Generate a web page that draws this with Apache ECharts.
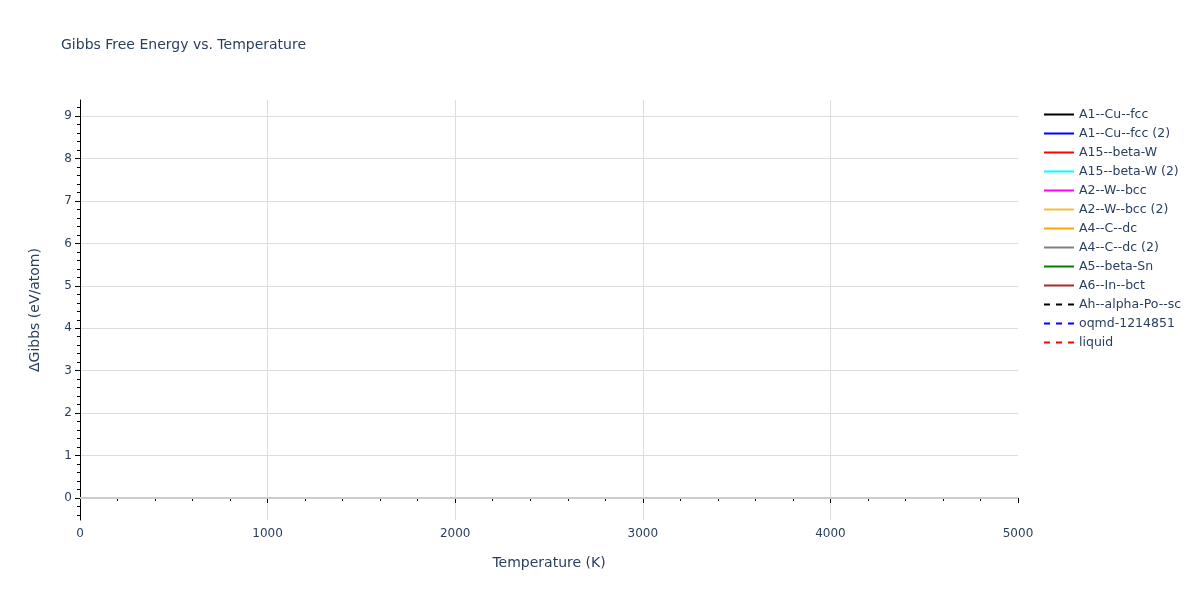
<!DOCTYPE html>
<html>
<head>
<meta charset="utf-8">
<script src="https://cdn.jsdelivr.net/npm/echarts@6/dist/echarts.min.js"></script>
<style>html,body{margin:0;padding:0;background:#fff}#c{width:1200px;height:600px}</style>
</head>
<body>
<div id="c"></div>
<script>
// Series names and styles (no visible data within the plotted range)
var seriesNames = ['A1--Cu--fcc','A1--Cu--fcc (2)','A15--beta-W','A15--beta-W (2)','A2--W--bcc','A2--W--bcc (2)','A4--C--dc','A4--C--dc (2)','A5--beta-Sn','A6--In--bct','Ah--alpha-Po--sc','oqmd-1214851','liquid'];
var seriesColors = ['#000000','#0000ff','#ff0000','#00ffff','#ff00ff','#f0c040','#ffa500','#808080','#008000','#a52a2a','#000000','#0000ff','#ff0000'];
var seriesDash = [false,false,false,false,false,false,false,false,false,false,true,true,true];
var seriesData = [[],[],[],[],[],[],[],[],[],[],[],[],[]];
var yTickValues = [0,1,2,3,4,5,6,7,8,9];
var yMinorValues = [];
for (var v = -0.4; v < 9.39; v += 0.2) { var r = Math.round(v*10)/10; if (Math.abs(r - Math.round(r)) > 1e-6) yMinorValues.push(r); }
var yMin = -0.52, yMax = 9.38;

var textColor = '#2a3f5f';
var fam = 'DejaVu Sans';
var series = seriesNames.map(function(n,i){
  return {
    name: n, type: 'line', data: seriesData[i], symbol: 'none', showSymbol: false,
    xAxisIndex: 0, yAxisIndex: 0,
    lineStyle: {color: seriesColors[i], width: 2, type: seriesDash[i] ? [6,6] : 'solid'},
    itemStyle: {color: seriesColors[i]}
  };
});
series.push({
  name: '_zero', type: 'line', data: [], symbol: 'none', silent: true,
  markLine: {silent: true, symbol: 'none', label: {show: false},
    lineStyle: {color: '#cccccc', width: 2, type: 'solid'},
    data: [{yAxis: 0}]}
});

var chart = echarts.init(document.getElementById('c'));
chart.setOption({
  animation: false,
  backgroundColor: '#fff',
  title: {text: 'Gibbs Free Energy vs. Temperature', left: 56, top: 33,
    textStyle: {fontFamily: fam, fontSize: 14, fontWeight: 'normal', color: textColor}},
  legend: {
    orient: 'vertical', left: 1038, top: 103, itemWidth: 30, itemHeight: 10, itemGap: 6,
    data: seriesNames,
    itemStyle: {opacity: 0, borderWidth: 0},
    textStyle: {fontFamily: fam, fontSize: 12.5, color: textColor}
  },
  grid: {left: 80, right: 182, top: 100, bottom: 80, containLabel: false},
  xAxis: {
    type: 'value', min: 0, max: 5000, interval: 1000,
    name: 'Temperature (K)', nameLocation: 'middle', nameGap: 36,
    nameTextStyle: {fontFamily: fam, fontSize: 14, color: textColor},
    axisLine: {show: true, lineStyle: {color: '#000', width: 1}},
    axisTick: {show: true, length: 5, lineStyle: {color: '#000'}},
    minorTick: {show: true, splitNumber: 5, length: 3, lineStyle: {color: '#000'}},
    axisLabel: {fontFamily: fam, fontSize: 12, color: textColor, margin: 8,
      formatter: function(v){ return String(v); }},
    splitLine: {show: true, showMinLine: false, showMaxLine: false, lineStyle: {color: '#dddddd', width: 1}}
  },
  yAxis: [{
    type: 'value', min: yMin, max: yMax,
    name: 'ΔGibbs (eV/atom)', nameLocation: 'middle', nameGap: 38,
    nameTextStyle: {fontFamily: fam, fontSize: 14, color: textColor},
    axisLine: {show: true, lineStyle: {color: '#000', width: 1}},
    axisTick: {show: true, length: 5, customValues: yTickValues, lineStyle: {color: '#000'}},
    axisLabel: {fontFamily: fam, fontSize: 12, color: textColor, margin: 8, customValues: yTickValues},
    splitLine: {show: true, lineStyle: {color: '#dddddd', width: 1}}
  }, {
    type: 'value', min: yMin, max: yMax, position: 'left',
    axisLine: {show: false},
    axisTick: {show: true, length: 3, customValues: yMinorValues, lineStyle: {color: '#000'}},
    axisLabel: {show: false, customValues: yMinorValues},
    splitLine: {show: false}
  }],
  series: series
});
</script>
</body>
</html>
